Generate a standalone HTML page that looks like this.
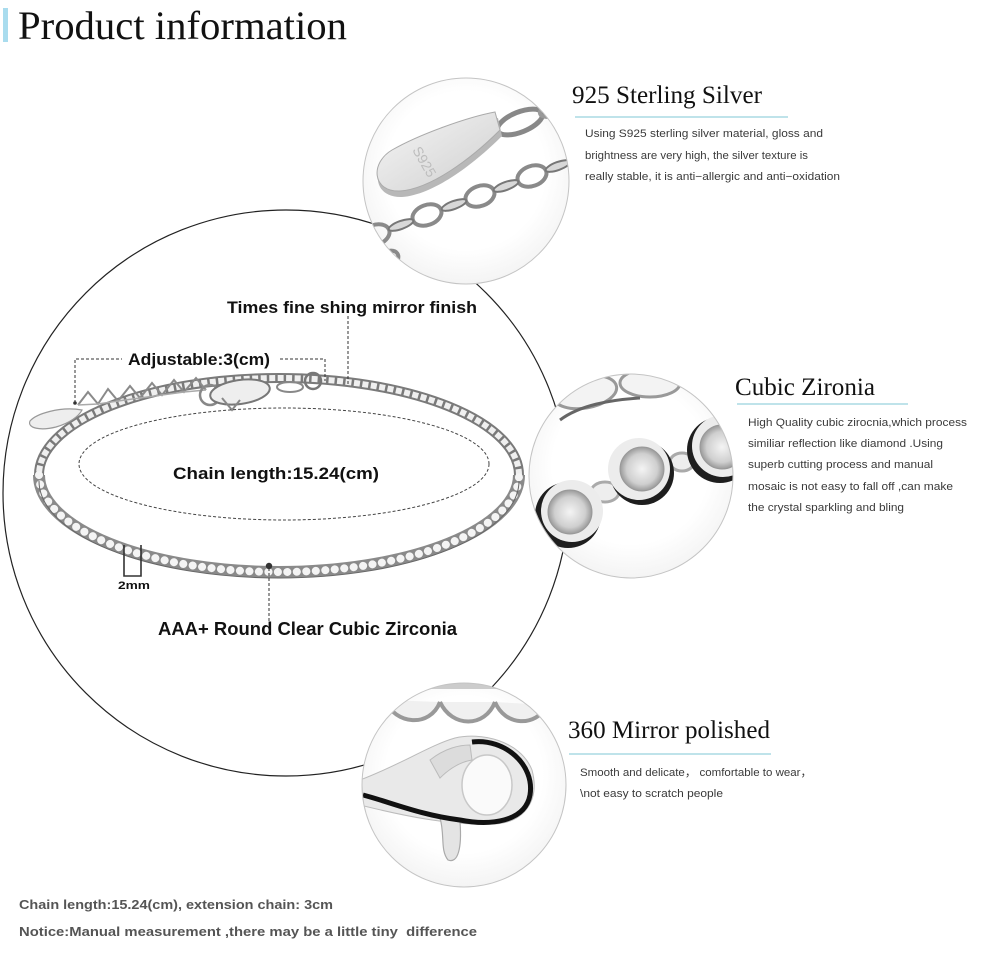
<!DOCTYPE html>
<html><head><meta charset="utf-8"><style>
html,body{margin:0;padding:0;background:#fff;}
svg{display:block;}
.ser{font-family:"Liberation Serif",serif;fill:#111;}
.body{font-family:"Liberation Sans",sans-serif;font-size:11px;fill:#3a3a3a;}
.lbl{font-family:"Liberation Sans",sans-serif;font-weight:bold;fill:#111;}
.foot{font-family:"Liberation Sans",sans-serif;font-weight:bold;font-size:13px;fill:#555;}
</style></head><body>
<svg width="1000" height="960" viewBox="0 0 1000 960" xmlns="http://www.w3.org/2000/svg">
<defs>
  <radialGradient id="bg" cx="50%" cy="45%" r="55%">
    <stop offset="0.7" stop-color="#ffffff"/><stop offset="1" stop-color="#f4f4f4"/>
  </radialGradient>
  <linearGradient id="tag" x1="0" y1="0" x2="1" y2="1">
    <stop offset="0" stop-color="#f6f6f6"/><stop offset="1" stop-color="#cfcfcf"/>
  </linearGradient>
  <radialGradient id="stone" cx="50%" cy="50%" r="50%">
    <stop offset="0" stop-color="#f4f4f4"/><stop offset="0.7" stop-color="#cfcfcf"/><stop offset="1" stop-color="#9a9a9a"/>
  </radialGradient>
  <clipPath id="c1"><circle cx="466" cy="181" r="103"/></clipPath>
  <clipPath id="c2"><circle cx="631" cy="476" r="102"/></clipPath>
  <clipPath id="c3"><circle cx="464" cy="785" r="102"/></clipPath>
</defs>

<!-- Header -->
<rect x="3" y="8" width="5" height="34" fill="#a9dcee"/>
<text class="ser" x="18" y="39" font-size="40" textLength="329" lengthAdjust="spacingAndGlyphs">Product information</text>

<!-- Big circle -->
<circle cx="286" cy="493" r="283" fill="none" stroke="#222" stroke-width="1.2"/>

<!-- Bracelet -->
<path d="M519 475 A240 97 0 0 0 39 475" fill="none" stroke="#7a7a7a" stroke-width="10"/>
<path d="M519 475 A240 97 0 0 0 39 475" fill="none" stroke="#efefef" stroke-width="6" stroke-dasharray="6 2.5"/>
<path d="M39 475 A240 97 0 0 0 519 475" fill="none" stroke="#8a8a8a" stroke-width="12"/>
<path d="M39 475 A240 97 0 0 0 519 475" fill="none" stroke="#f4f4f4" stroke-width="8" stroke-linecap="round" stroke-dasharray="0.1 9.4"/>
<path d="M39 475 A240 97 0 0 0 519 475" fill="none" stroke="#666" stroke-width="1" transform="translate(0,6)"/>
<polyline points="78,405 88,392 98,404 108,389 118,401 130,386 140,398 152,383 162,395 174,380 184,392 196,378 206,390" fill="none" stroke="#8a8a8a" stroke-width="2"/>
<polyline points="78,405 98,404 118,401 140,398 162,395 184,392 206,390" fill="none" stroke="#aaa" stroke-width="1.5"/>
<path d="M82 410 C60 406 36 414 30 421 C27 428 40 431 56 427 C70 423 79 416 82 410 Z" fill="#eee" stroke="#999" stroke-width="1.2"/>
<circle cx="210" cy="395" r="10" fill="none" stroke="#888" stroke-width="2.5"/>
<ellipse cx="240" cy="392" rx="30" ry="12" transform="rotate(-8 240 392)" fill="#eee" stroke="#777" stroke-width="2"/>
<path d="M222 398 L232 410 L240 400" fill="none" stroke="#888" stroke-width="2"/>
<ellipse cx="290" cy="387" rx="13" ry="5" fill="none" stroke="#888" stroke-width="2"/>
<circle cx="313" cy="381" r="8" fill="none" stroke="#777" stroke-width="2.5"/>

<ellipse cx="284" cy="464" rx="205" ry="56" fill="none" stroke="#444" stroke-width="1" stroke-dasharray="3 2"/>

<g fill="none" stroke="#333" stroke-width="1" stroke-dasharray="3 2">
  <polyline points="75,403 75,359 122,359"/>
  <polyline points="280,359 325,359 325,381"/>
  <line x1="348" y1="316" x2="348" y2="385"/>
  <line x1="269" y1="568" x2="269" y2="622"/>
</g>
<circle cx="75" cy="403" r="1.8" fill="#333"/>
<circle cx="269" cy="566" r="3.2" fill="#333"/>
<polyline points="124,545 124,576 141,576 141,545" fill="none" stroke="#333" stroke-width="1.6"/>

<text class="lbl" x="227" y="313" font-size="17" textLength="250" lengthAdjust="spacingAndGlyphs">Times fine shing mirror finish</text>
<text class="lbl" x="128" y="365" font-size="17" textLength="142" lengthAdjust="spacingAndGlyphs">Adjustable:3(cm)</text>
<text class="lbl" x="173" y="479" font-size="17" textLength="206" lengthAdjust="spacingAndGlyphs">Chain length:15.24(cm)</text>
<text class="lbl" x="118" y="589" font-size="11" textLength="32" lengthAdjust="spacingAndGlyphs">2mm</text>
<text class="lbl" x="158" y="635" font-size="18" textLength="299" lengthAdjust="spacingAndGlyphs">AAA+ Round Clear Cubic Zirconia</text>

<!-- Top photo circle -->
<circle cx="466" cy="181" r="103" fill="url(#bg)"/>
<g clip-path="url(#c1)">
  <g fill="none" stroke="#8a8a8a" stroke-width="4">
    <ellipse cx="375" cy="235" rx="15" ry="10" transform="rotate(-20 375 235)"/>
    <ellipse cx="427" cy="215" rx="15" ry="10" transform="rotate(-20 427 215)"/>
    <ellipse cx="480" cy="196" rx="15" ry="10" transform="rotate(-20 480 196)"/>
    <ellipse cx="532" cy="176" rx="15" ry="10" transform="rotate(-20 532 176)"/>
    <ellipse cx="585" cy="156" rx="15" ry="10" transform="rotate(-20 585 156)"/>
    <ellipse cx="385" cy="262" rx="15" ry="9" transform="rotate(-35 385 262)"/>
  </g>
  <g fill="#d8d8d8" stroke="#777" stroke-width="2">
    <ellipse cx="401" cy="225" rx="13" ry="4" transform="rotate(-20 401 225)"/>
    <ellipse cx="454" cy="205" rx="13" ry="4" transform="rotate(-20 454 205)"/>
    <ellipse cx="506" cy="186" rx="13" ry="4" transform="rotate(-20 506 186)"/>
    <ellipse cx="558" cy="166" rx="13" ry="4" transform="rotate(-20 558 166)"/>
    <ellipse cx="370" cy="250" rx="12" ry="4" transform="rotate(-40 370 250)"/>
  </g>
  <ellipse cx="520" cy="122" rx="24" ry="10" transform="rotate(-22 520 122)" fill="none" stroke="#888" stroke-width="5"/>
  <ellipse cx="555" cy="108" rx="16" ry="7" transform="rotate(-22 555 108)" fill="none" stroke="#999" stroke-width="4"/>
  <path d="M498 118 C470 122 420 140 392 156 C370 170 374 198 402 197 C432 195 472 166 502 136 Z" fill="#b8b8b8"/>
  <path d="M495 112 C468 117 420 134 392 150 C370 163 372 192 400 191 C430 189 470 160 500 130 Z" fill="url(#tag)" stroke="#aaa" stroke-width="1"/>
  <text x="0" y="0" font-family="Liberation Sans, sans-serif" font-size="14" fill="#bdbdbd" transform="translate(412,150) rotate(60)">S925</text>
</g>
<circle cx="466" cy="181" r="103" fill="none" stroke="#c4c4c4" stroke-width="1"/>

<!-- Middle photo circle -->
<circle cx="631" cy="476" r="102" fill="url(#bg)"/>
<g clip-path="url(#c2)">
  <g fill="#f3f3f3" stroke="#999" stroke-width="3">
    <ellipse cx="585" cy="392" rx="32" ry="16" transform="rotate(-10 585 392)"/>
    <ellipse cx="650" cy="383" rx="30" ry="14"/>
  </g>
  <path d="M560 420 C580 405 610 400 640 398" fill="none" stroke="#666" stroke-width="3"/>
  <ellipse cx="605" cy="492" rx="14" ry="10" fill="#eee" stroke="#aaa" stroke-width="3"/>
  <ellipse cx="682" cy="462" rx="12" ry="9" fill="#eee" stroke="#aaa" stroke-width="3"/>
  <circle cx="642" cy="473" r="32" fill="#1e1e1e"/>
  <circle cx="639" cy="469" r="31" fill="#ececec"/>
  <circle cx="642" cy="469" r="22" fill="url(#stone)" stroke="#999" stroke-width="1"/>
  <circle cx="568" cy="515" r="33" fill="#1e1e1e"/>
  <circle cx="572" cy="511" r="31" fill="#ececec"/>
  <circle cx="570" cy="512" r="22" fill="url(#stone)" stroke="#999" stroke-width="1"/>
  <circle cx="720" cy="450" r="33" fill="#1e1e1e"/>
  <circle cx="723" cy="446" r="31" fill="#ececec"/>
  <circle cx="722" cy="447" r="22" fill="url(#stone)" stroke="#999" stroke-width="1"/>
</g>
<circle cx="631" cy="476" r="102" fill="none" stroke="#c4c4c4" stroke-width="1"/>

<!-- Bottom photo circle -->
<circle cx="464" cy="785" r="102" fill="url(#bg)"/>
<g clip-path="url(#c3)">
  <g fill="#f0f0f0" stroke="#999" stroke-width="4">
    <path d="M385 700 C395 725 430 728 440 702"/>
    <path d="M440 702 C452 728 485 728 495 702"/>
    <path d="M495 702 C505 726 535 728 548 705"/>
  </g>
  <path d="M370 685 L560 685" stroke="#ccc" stroke-width="8"/>
  <path d="M360 780 C400 765 430 745 455 738 C480 732 520 740 532 770 C540 800 525 822 495 824 C450 826 400 815 360 805 Z" fill="#e9e9e9" stroke="#bbb" stroke-width="1"/>
  <path d="M440 818 C445 835 440 850 448 860 C458 864 462 848 460 822 Z" fill="#e4e4e4" stroke="#aaa" stroke-width="1.2"/>
  <ellipse cx="487" cy="785" rx="25" ry="30" fill="#fafafa" stroke="#c8c8c8" stroke-width="1.5"/>
  <path d="M430 760 C445 748 460 745 470 745 L472 760 C460 762 450 768 440 778 Z" fill="#dcdcdc" stroke="#bbb" stroke-width="1"/>
  <path d="M472 742 C505 738 535 765 530 795 C525 822 490 826 460 820 C420 815 390 802 363 795" fill="none" stroke="#111" stroke-width="5"/>
</g>
<circle cx="464" cy="785" r="102" fill="none" stroke="#c4c4c4" stroke-width="1"/>

<text class="ser" x="572" y="103" font-size="25" textLength="190" lengthAdjust="spacingAndGlyphs">925 Sterling Silver</text>
<rect x="575" y="116" width="213" height="2" fill="#bfe3ea"/>
<text class="body" x="585" y="137" textLength="238" lengthAdjust="spacingAndGlyphs">Using S925 sterling silver material, gloss and</text>
<text class="body" x="585" y="159" textLength="223" lengthAdjust="spacingAndGlyphs">brightness are very high, the silver texture is</text>
<text class="body" x="585" y="180" textLength="255" lengthAdjust="spacingAndGlyphs">really stable, it is anti−allergic and anti−oxidation</text>

<text class="ser" x="735" y="395" font-size="25" textLength="140" lengthAdjust="spacingAndGlyphs">Cubic Zironia</text>
<rect x="737" y="403" width="171" height="2" fill="#bfe3ea"/>
<text class="body" x="748" y="426" textLength="219" lengthAdjust="spacingAndGlyphs">High Quality cubic zirocnia,which process</text>
<text class="body" x="748" y="447" textLength="195" lengthAdjust="spacingAndGlyphs">similiar reflection like diamond .Using</text>
<text class="body" x="748" y="468" textLength="185" lengthAdjust="spacingAndGlyphs">superb cutting process and manual</text>
<text class="body" x="748" y="490" textLength="205" lengthAdjust="spacingAndGlyphs">mosaic is not easy to fall off ,can make</text>
<text class="body" x="748" y="511" textLength="156" lengthAdjust="spacingAndGlyphs">the crystal sparkling and bling</text>

<text class="ser" x="568" y="738" font-size="25" textLength="202" lengthAdjust="spacingAndGlyphs">360 Mirror polished</text>
<rect x="569" y="753" width="202" height="2" fill="#bfe3ea"/>
<text class="body" x="580" y="776" textLength="232" lengthAdjust="spacingAndGlyphs">Smooth and delicate， comfortable to wear，</text>
<text class="body" x="580" y="797" textLength="143" lengthAdjust="spacingAndGlyphs">\not easy to scratch people</text>

<text class="foot" x="19" y="909" textLength="314" lengthAdjust="spacingAndGlyphs">Chain length:15.24(cm), extension chain: 3cm</text>
<text class="foot" x="19" y="936" textLength="458" lengthAdjust="spacingAndGlyphs" xml:space="preserve">Notice:Manual measurement ,there may be a little tiny  difference</text>
</svg>
</body></html>
